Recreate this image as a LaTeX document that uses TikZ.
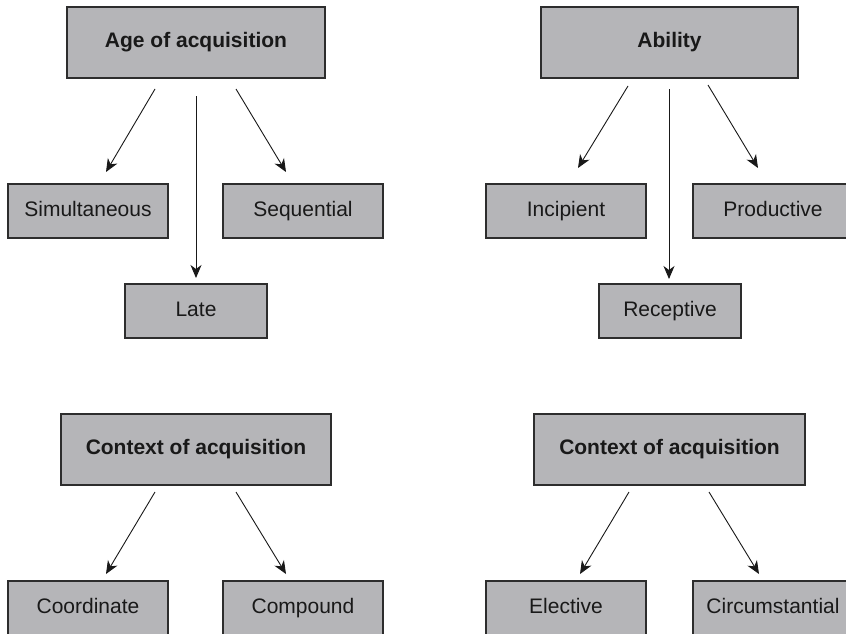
\documentclass[tikz,border=0pt]{standalone}
\usepackage{fontspec}
\setmainfont{Liberation Sans}
\usetikzlibrary{arrows.meta}
\definecolor{boxgray}{RGB}{181,181,184}
\definecolor{edgegray}{RGB}{45,45,45}
\definecolor{inkc}{RGB}{25,25,25}
\tikzset{
  headbox/.style={draw=edgegray, line width=1.1pt, fill=boxgray, inner sep=0pt,
    minimum height=71pt, text height=15pt, text depth=4.5pt,
    font=\fontsize{21}{25}\selectfont\bfseries, text=inkc},
  leafbox/.style={draw=edgegray, line width=1.1pt, fill=boxgray, inner sep=0pt,
    minimum width=160pt, minimum height=54pt, text height=15pt, text depth=4.5pt,
    font=\fontsize{21}{25}\selectfont, text=inkc},
  conn/.style={draw=inkc, line width=0.9pt, -{Stealth[length=13pt,width=11pt,inset=4pt]}}
}
\begin{document}
\begin{tikzpicture}[x=1pt,y=-1pt]
\clip (0,0) rectangle (846,634);
\fill[white] (0,0) rectangle (846,634);
% top-left
\node[headbox, minimum width=258pt] (age) at (196,42.5) {Age of acquisition};
\node[leafbox] (sim) at (88,211) {Simultaneous};
\node[leafbox] (seq) at (303,211) {Sequential};
\node[leafbox, minimum width=142pt] (late) at (196,311) {Late};
\coordinate (a1) at (155,89);  \coordinate (a1e) at (106,172);
\coordinate (a2) at (196,96);  \coordinate (a2e) at (196,278);
\coordinate (a3) at (236,89);  \coordinate (a3e) at (286,172);
\draw[conn] (a1) -- (a1e);
\draw[conn] (a2) -- (a2e);
\draw[conn] (a3) -- (a3e);
% top-right
\node[headbox, minimum width=257pt] (abil) at (669.5,42.5) {Ability};
\node[leafbox] (inc) at (566,211) {Incipient};
\node[leafbox] (prod) at (773,211) {Productive};
\node[leafbox, minimum width=142pt] (rec) at (670,311) {Receptive};
\coordinate (b1) at (628,86);  \coordinate (b1e) at (578,168);
\coordinate (b2) at (669,89);  \coordinate (b2e) at (669,279);
\coordinate (b3) at (708,85);  \coordinate (b3e) at (758,168);
\draw[conn] (b1) -- (b1e);
\draw[conn] (b2) -- (b2e);
\draw[conn] (b3) -- (b3e);
% bottom-left
\node[headbox, minimum width=270pt] (ctxa) at (196,449.5) {Context of acquisition};
\node[leafbox] (coord) at (88,608) {Coordinate};
\node[leafbox] (comp) at (303,608) {Compound};
\coordinate (c1) at (155,492);  \coordinate (c1e) at (106,574);
\coordinate (c2) at (236,492);  \coordinate (c2e) at (286,574);
\draw[conn] (c1) -- (c1e);
\draw[conn] (c2) -- (c2e);
% bottom-right
\node[headbox, minimum width=271pt] (ctxb) at (669.5,449.5) {Context of acquisition};
\node[leafbox] (elec) at (566,608) {Elective};
\node[leafbox] (circ) at (773,608) {Circumstantial};
\coordinate (d1) at (629,492);  \coordinate (d1e) at (580,574);
\coordinate (d2) at (709,492);  \coordinate (d2e) at (759,574);
\draw[conn] (d1) -- (d1e);
\draw[conn] (d2) -- (d2e);
\end{tikzpicture}
\end{document}
